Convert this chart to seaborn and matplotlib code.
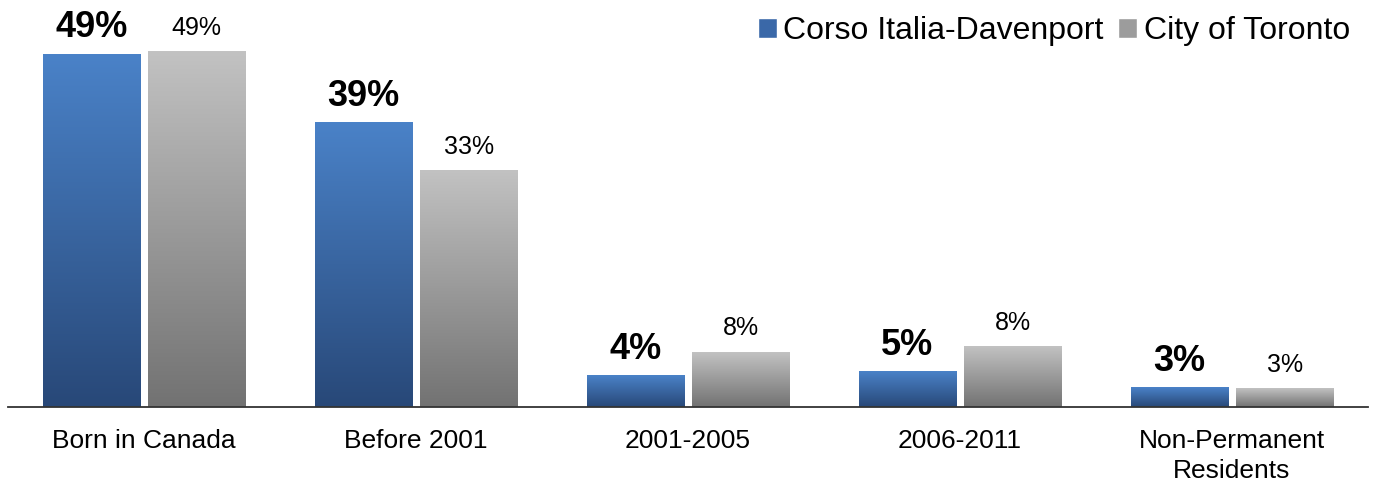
import numpy as np
import pandas as pd
import matplotlib
matplotlib.use('Agg')
import matplotlib.pyplot as plt
import seaborn as sns
from matplotlib.colors import LinearSegmentedColormap
from matplotlib.patches import Patch

# data (percent)
categories = ['Born in Canada', 'Before 2001', '2001-2005', '2006-2011', 'Non-Permanent\nResidents']
series = ['Corso Italia-Davenport', 'City of Toronto']
corso = [48.9, 39.4, 4.4, 4.9, 2.7]
toronto = [49.2, 32.8, 7.6, 8.4, 2.6]

df = pd.DataFrame({
    'category': categories * 2,
    'series': [series[0]] * len(categories) + [series[1]] * len(categories),
    'value': corso + toronto,
})

sns.set_theme(style='white')
plt.rcParams['font.family'] = ['Liberation Sans', 'DejaVu Sans']

# gradient fills (dark at the bottom, light at the top)
blue_cmap = LinearSegmentedColormap.from_list('blue', ['#284878', '#4a82c8'])
gray_cmap = LinearSegmentedColormap.from_list('gray', ['#727272', '#c2c2c2'])
palette = {series[0]: '#3a68a8', series[1]: '#9c9c9c'}

fig = plt.figure(figsize=(13.73, 4.87), dpi=100)
ax = fig.add_axes([8 / 1373, 80 / 487, 1360 / 1373, 407 / 487])

sns.barplot(data=df, x='category', y='value', hue='series', palette=palette,
            width=0.776, gap=0.08, legend=False, ax=ax)

grad = np.linspace(1, 0, 256).reshape(-1, 1)
for container, cmap, bold in zip(ax.containers, [blue_cmap, gray_cmap], [True, False]):
    for bar in container:
        x0, w, h = bar.get_x(), bar.get_width(), bar.get_height()
        ax.imshow(grad, extent=[x0, x0 + w, 0, h], cmap=cmap, vmin=0, vmax=1,
                  aspect='auto', zorder=bar.get_zorder() + 0.1)
        ax.annotate(f'{h:.0f}%', (x0 + w / 2, h), xytext=(0, 12), textcoords='offset points',
                    ha='center', va='baseline',
                    fontsize=26 if bold else 18,
                    fontweight='bold' if bold else 'normal', color='black')

ax.set_xlim(-0.5, len(categories) - 0.5)
ax.set_ylim(0, 56.4)
ax.set_xlabel('')
ax.set_ylabel('')
ax.set_yticks([])
ax.tick_params(axis='x', length=0, pad=16, labelsize=19, colors='black')
for lbl in ax.get_xticklabels():
    lbl.set_linespacing(1.3)
for side in ['top', 'left', 'right']:
    ax.spines[side].set_visible(False)
ax.spines['bottom'].set_color('#333333')
ax.spines['bottom'].set_linewidth(1.3)

handles = [Patch(facecolor=palette[s]) for s in series]
fig.legend(handles, series, loc='upper right', bbox_to_anchor=(1350 / 1373, 1 - 16 / 487),
           ncol=2, frameon=False, fontsize=23, labelcolor='black', borderpad=0, borderaxespad=0,
           handlelength=0.6, handleheight=0.6, handletextpad=0.2, columnspacing=0.45)

fig.savefig('out.png', dpi=100)
